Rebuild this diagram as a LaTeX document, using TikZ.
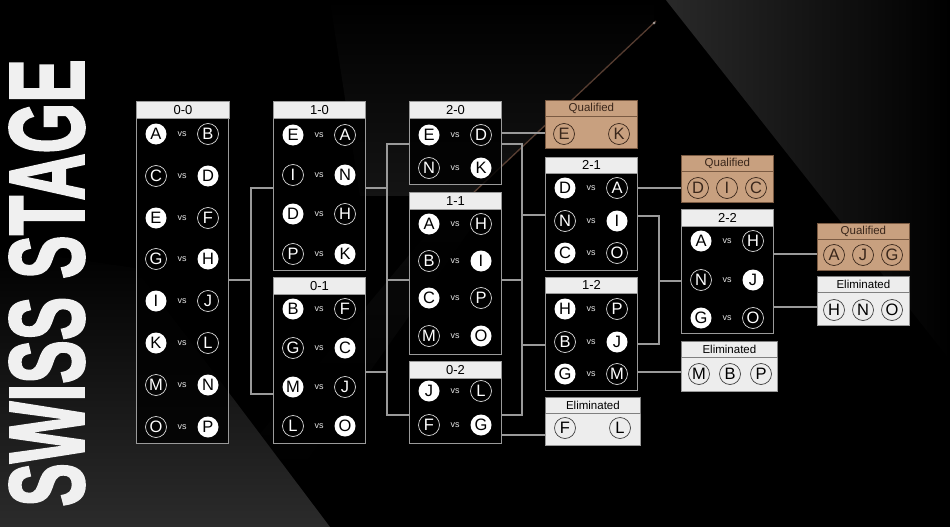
\documentclass[tikz,border=0pt]{standalone}
\usepackage{fontspec}
\setmainfont{Liberation Sans}
\newfontfamily\titlefont[FakeBold=2.5]{Liberation Sans}
\usepackage{graphicx}
\usetikzlibrary{positioning,fadings}
\definecolor{wire}{HTML}{9A9A9A}
\definecolor{headfill}{HTML}{EDEDED}
\definecolor{tan}{HTML}{C8A07F}
\definecolor{tanedge}{HTML}{7A5A42}
\definecolor{tandark}{HTML}{3A271B}
\definecolor{bgdark}{HTML}{2B2B2B}
\definecolor{copper}{HTML}{9C6E58}

\begin{document}
\begin{tikzpicture}[x=1pt,y=-1pt,
      panel/.style={draw=wire,line width=0.9pt,fill=black,fill opacity=0.8,anchor=north west,minimum width=92,inner sep=0},
      head/.style={draw=wire,line width=0.9pt,fill=headfill,anchor=north west,minimum width=92,minimum height=17,inner sep=0,font=\fontsize{13}{13}\selectfont,text=black},
      win/.style={circle,fill=white,minimum size=21,inner sep=0,font=\fontsize{16.5}{16.5}\selectfont,text=black},
      lose/.style={circle,draw=white!85!black,line width=0.7pt,minimum size=21,inner sep=0,font=\fontsize{16.5}{16.5}\selectfont,text=white},
      vs/.style={font=\fontsize{9}{9}\selectfont,text=white!90!black,inner sep=0},
      qpanel/.style={draw=tanedge,line width=0.8pt,fill=tan,anchor=north west,minimum width=92,inner sep=0},
      qhead/.style={draw=tanedge,line width=0.8pt,fill=tan,anchor=north west,minimum width=92,minimum height=15.5,inner sep=0,font=\fontsize{11.5}{11.5}\selectfont,text=tandark},
      qteam/.style={circle,draw=tandark,line width=0.7pt,minimum size=21,inner sep=0,font=\fontsize{16.5}{16.5}\selectfont,text=tandark},
      epanel/.style={draw=wire,line width=0.8pt,fill=headfill,anchor=north west,minimum width=92,inner sep=0},
      ehead/.style={draw=gray,line width=0.8pt,fill=headfill,anchor=north west,minimum width=92,minimum height=15.5,inner sep=0,font=\fontsize{11.5}{11.5}\selectfont,text=black},
      eteam/.style={circle,draw=black!75,line width=0.7pt,minimum size=21,inner sep=0,font=\fontsize{16.5}{16.5}\selectfont,text=black},
      link/.style={draw=wire,line width=1.1pt},
    ]
    \useasboundingbox (0,0) rectangle (950,527);
    \fill[black] (0,0) rectangle (950,527);
    \shade[top color=black,bottom color=bgdark] (0,248) -- (135,268) -- (330,527) -- (0,527) -- cycle;
    \fill[white,opacity=0.08,path fading=north] (330,0) -- (654,0) -- (654,22) -- (470,196) -- (360,196) -- cycle;
    \fill[white,opacity=0.16,path fading=east] (666,0) -- (950,0) -- (950,360) -- cycle;
    \draw[black,line width=2.5pt] (656,10) -- (765,245);
    \fill[white,opacity=0.04,path fading=south] (230,470) -- (300,470) -- (470,230) -- (430,230) -- cycle;
    \draw[copper,opacity=0.55,line width=1.3pt] (656,21) -- (470,196);
    \fill[white,opacity=0.5] (654,23) circle (1.5);

    \node[rotate=90,inner sep=0,text=white!94!black] (title) at (47,283) {\resizebox{447pt}{74pt}{\titlefont\bfseries SWISS STAGE}};

    \node[panel,minimum height=342] (p00) at (136,101) {};
    \node[head,minimum width=93] (h00) at (136,101) {0-0};
    \foreach \y/\a/\sa/\b/\sb [count=\i] in {134/A/win/B/lose,176/C/lose/D/win,218/E/win/F/lose,259/G/lose/H/win,301/I/win/J/lose,343/K/win/L/lose,385/M/lose/N/win,427/O/lose/P/win}{
        \node[\sa] (m00a\i) at (156,\y) {\a};
        \node[vs] (m00v\i) at (182,\y) {vs};
        \node[\sb] (m00b\i) at (208,\y) {\b};
    }

    \node[panel,minimum height=169] (p10) at (273,101) {};
    \node[head] (h10) at (273,101) {1-0};
    \foreach \y/\a/\sa/\b/\sb [count=\i] in {135/E/win/A/lose,175/I/lose/N/win,214/D/win/H/lose,254/P/lose/K/win}{
        \node[\sa] (m10a\i) at (293,\y) {\a};
        \node[vs] (m10v\i) at (319,\y) {vs};
        \node[\sb] (m10b\i) at (345,\y) {\b};
    }

    \node[panel,minimum height=166] (p01) at (273,277) {};
    \node[head] (h01) at (273,277) {0-1};
    \foreach \y/\a/\sa/\b/\sb [count=\i] in {309/B/win/F/lose,348/G/lose/C/win,387/M/win/J/lose,426/L/lose/O/win}{
        \node[\sa] (m01a\i) at (293,\y) {\a};
        \node[vs] (m01v\i) at (319,\y) {vs};
        \node[\sb] (m01b\i) at (345,\y) {\b};
    }

    \node[panel,minimum height=83] (p20) at (409,101) {};
    \node[head] (h20) at (409,101) {2-0};
    \foreach \y/\a/\sa/\b/\sb [count=\i] in {135/E/win/D/lose,168/N/lose/K/win}{
        \node[\sa] (m20a\i) at (429,\y) {\a};
        \node[vs] (m20v\i) at (455,\y) {vs};
        \node[\sb] (m20b\i) at (481,\y) {\b};
    }

    \node[panel,minimum height=162] (p11) at (409,192) {};
    \node[head] (h11) at (409,192) {1-1};
    \foreach \y/\a/\sa/\b/\sb [count=\i] in {224/A/win/H/lose,261/B/lose/I/win,298/C/win/P/lose,336/M/lose/O/win}{
        \node[\sa] (m11a\i) at (429,\y) {\a};
        \node[vs] (m11v\i) at (455,\y) {vs};
        \node[\sb] (m11b\i) at (481,\y) {\b};
    }

    \node[panel,minimum height=82] (p02) at (409,361) {};
    \node[head] (h02) at (409,361) {0-2};
    \foreach \y/\a/\sa/\b/\sb [count=\i] in {391/J/win/L/lose,425/F/lose/G/win}{
        \node[\sa] (m02a\i) at (429,\y) {\a};
        \node[vs] (m02v\i) at (455,\y) {vs};
        \node[\sb] (m02b\i) at (481,\y) {\b};
    }

    \node[panel,minimum height=113] (p21) at (545,157) {};
    \node[head,minimum height=16] (h21) at (545,157) {2-1};
    \foreach \y/\a/\sa/\b/\sb [count=\i] in {188/D/win/A/lose,221/N/lose/I/win,253/C/win/O/lose}{
        \node[\sa] (m21a\i) at (565,\y) {\a};
        \node[vs] (m21v\i) at (591,\y) {vs};
        \node[\sb] (m21b\i) at (617,\y) {\b};
    }

    \node[panel,minimum height=113] (p12) at (545,277) {};
    \node[head,minimum height=16] (h12) at (545,277) {1-2};
    \foreach \y/\a/\sa/\b/\sb [count=\i] in {309/H/win/P/lose,342/B/lose/J/win,374/G/win/M/lose}{
        \node[\sa] (m12a\i) at (565,\y) {\a};
        \node[vs] (m12v\i) at (591,\y) {vs};
        \node[\sb] (m12b\i) at (617,\y) {\b};
    }

    \node[panel,minimum height=124] (p22) at (681,209) {};
    \node[head] (h22) at (681,209) {2-2};
    \foreach \y/\a/\sa/\b/\sb [count=\i] in {241/A/win/H/lose,280/N/lose/J/win,318/G/win/O/lose}{
        \node[\sa] (m22a\i) at (701,\y) {\a};
        \node[vs] (m22v\i) at (727,\y) {vs};
        \node[\sb] (m22b\i) at (753,\y) {\b};
    }

    \node[qpanel,minimum height=48] (q1) at (545,100) {};
    \node[qhead] (q1h) at (545,100) {Qualified};
    \node[qteam] (q1a) at (564,134) {E};
    \node[qteam] (q1b) at (619,134) {K};

    \node[qpanel,minimum height=47] (q2) at (681,155) {};
    \node[qhead] (q2h) at (681,155) {Qualified};
    \foreach \x/\t in {698/D,727/I,756/C}
        \node[qteam] (q2\t) at (\x,188) {\t};

    \node[qpanel,minimum height=47] (q3) at (817,223) {};
    \node[qhead] (q3h) at (817,223) {Qualified};
    \foreach \x/\t in {834/A,863/J,892/G}
        \node[qteam] (q3\t) at (\x,255) {\t};

    \node[epanel,minimum width=95,minimum height=48] (e1) at (545,397) {};
    \node[ehead,minimum width=95] (e1h) at (545,397) {Eliminated};
    \node[eteam] (e1a) at (565,428) {F};
    \node[eteam] (e1b) at (620,428) {L};

    \node[epanel,minimum width=96,minimum height=50] (e2) at (681,341) {};
    \node[ehead,minimum width=96] (e2h) at (681,341) {Eliminated};
    \foreach \x/\t in {699/M,730/B,761/P}
        \node[eteam] (e2\t) at (\x,374) {\t};

    \node[epanel,minimum height=49] (e3) at (817,276) {};
    \node[ehead] (e3h) at (817,276) {Eliminated};
    \foreach \x/\t in {834/H,863/N,892/O}
        \node[eteam] (e3\t) at (\x,310) {\t};

    \coordinate (j1) at (251,280);
    \coordinate (j1a) at (251,188);
    \coordinate (j1b) at (251,394);
    \draw[link] (p00.east |- j1) -- (j1);
    \draw[link] (p10.west |- j1a) -- (j1a) -- (j1b) -- (p01.west |- j1b);

    \coordinate (j2a) at (387,144);
    \coordinate (j2b) at (387,415);
    \coordinate (j2u) at (387,188);
    \coordinate (j2m) at (387,280);
    \coordinate (j2d) at (387,372);
    \draw[link] (p20.west |- j2a) -- (j2a) -- (j2b) -- (p02.west |- j2b);
    \draw[link] (p10.east |- j2u) -- (j2u);
    \draw[link] (p01.east |- j2d) -- (j2d);
    \draw[link] (j2m) -- (p11.west |- j2m);

    \coordinate (j3a) at (522,144);
    \coordinate (j3b) at (522,415);
    \coordinate (j3m) at (522,280);
    \coordinate (j3u) at (522,215);
    \coordinate (j3d) at (522,345);
    \draw[link] (p20.east |- 0,133) -- (q1.west |- 0,133);
    \draw[link] (p20.east |- j3a) -- (j3a) -- (j3b) -- (p02.east |- j3b);
    \draw[link] (p11.east |- j3m) -- (j3m);
    \draw[link] (j3u) -- (p21.west |- j3u);
    \draw[link] (j3d) -- (p12.west |- j3d);
    \draw[link] (p02.east |- 0,435) -- (e1.west |- 0,435);

    \coordinate (j4a) at (659,216);
    \coordinate (j4b) at (659,344);
    \coordinate (j4m) at (659,281);
    \draw[link] (p21.east |- 0,188) -- (q2.west |- 0,188);
    \draw[link] (p21.east |- j4a) -- (j4a) -- (j4b) -- (p12.east |- j4b);
    \draw[link] (j4m) -- (p22.west |- j4m);
    \draw[link] (p12.east |- 0,372) -- (e2.west |- 0,372);

    \draw[link] (p22.east |- 0,254) -- (q3.west |- 0,254);
    \draw[link] (p22.east |- 0,307) -- (e3.west |- 0,307);
\end{tikzpicture}
\end{document}
